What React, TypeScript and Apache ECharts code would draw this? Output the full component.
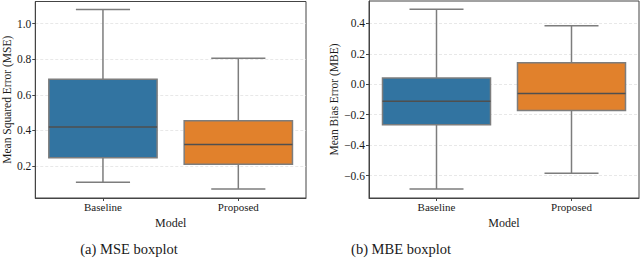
import React, { useEffect, useRef } from "react";
import * as echarts from "echarts";

const categories = ["Baseline", "Proposed"];
// [min, q1, median, q3, max]
const mseStats = [
  [0.11, 0.247, 0.42, 0.688, 1.079],
  [0.072, 0.211, 0.322, 0.455, 0.806],
];
const mbeStats = [
  [-0.688, -0.266, -0.112, 0.042, 0.492],
  [-0.584, -0.172, -0.061, 0.141, 0.385],
];
const mseTicks = [0.2, 0.4, 0.6, 0.8, 1.0];
const mbeTicks = [-0.6, -0.4, -0.2, 0.0, 0.2, 0.4];
const captions = ["(a) MSE boxplot", "(b) MBE boxplot"];

const boxColors = ["#3274a1", "#e1812c"];
const lineColor = "#7d7d7d";
const medianColor = "#4f4f4f";
const serif = "'Liberation Serif', 'Times New Roman', serif";

const fmt = (v: number) => {
  const s = (Math.round(v * 10) / 10).toFixed(1);
  return s.replace("-", "\u2212");
};

function renderBox(params: any, api: any) {
  const x = api.value(0);
  const mn = api.value(1);
  const q1 = api.value(2);
  const md = api.value(3);
  const q3 = api.value(4);
  const mx = api.value(5);
  const band = api.size([1, 0])[0];
  const boxW = band * 0.8;
  const capW = boxW * 0.5;
  const pMin = api.coord([x, mn]);
  const pQ1 = api.coord([x, q1]);
  const pMd = api.coord([x, md]);
  const pQ3 = api.coord([x, q3]);
  const pMax = api.coord([x, mx]);
  const cx = pMd[0];
  const lineStyle = { stroke: lineColor, lineWidth: 1.5 };
  return {
    type: "group",
    children: [
      { type: "line", shape: { x1: cx, y1: pQ3[1], x2: cx, y2: pMax[1] }, style: lineStyle },
      { type: "line", shape: { x1: cx, y1: pQ1[1], x2: cx, y2: pMin[1] }, style: lineStyle },
      { type: "line", shape: { x1: cx - capW / 2, y1: pMax[1], x2: cx + capW / 2, y2: pMax[1] }, style: lineStyle },
      { type: "line", shape: { x1: cx - capW / 2, y1: pMin[1], x2: cx + capW / 2, y2: pMin[1] }, style: lineStyle },
      {
        type: "rect",
        shape: { x: cx - boxW / 2, y: pQ3[1], width: boxW, height: pQ1[1] - pQ3[1] },
        style: { fill: boxColors[params.dataIndex], stroke: lineColor, lineWidth: 1.5 },
      },
      {
        type: "line",
        shape: { x1: cx - boxW / 2, y1: pMd[1], x2: cx + boxW / 2, y2: pMd[1] },
        style: { stroke: medianColor, lineWidth: 1.5 },
      },
    ],
  };
}

function makeY(gridIndex: number, name: string, min: number, max: number, ticks: number[], nameGap: number) {
  return {
    type: "value",
    gridIndex,
    min,
    max,
    name,
    nameLocation: "middle",
    nameGap,
    nameTextStyle: { fontFamily: serif, fontSize: 11.5, color: "#1a1a1a" },
    axisLine: { show: true, onZero: false, lineStyle: { color: "#444" } },
    axisTick: { show: true, length: 3, customValues: ticks, lineStyle: { color: "#444" } },
    axisLabel: {
      customValues: ticks,
      formatter: fmt,
      fontFamily: serif,
      fontSize: 11.5,
      color: "#1a1a1a",
      margin: 4,
    },
    splitLine: { show: true, lineStyle: { color: "#e2e2e2", type: [3, 2], width: 0.8 } },
  };
}

function makeX(gridIndex: number) {
  return {
    type: "category",
    gridIndex,
    data: categories,
    name: "Model",
    nameLocation: "middle",
    nameGap: 19,
    nameTextStyle: { fontFamily: serif, fontSize: 12, color: "#1a1a1a" },
    axisLine: { show: true, onZero: false, lineStyle: { color: "#444" } },
    axisTick: { show: true, alignWithLabel: true, length: 3, lineStyle: { color: "#444" } },
    axisLabel: { fontFamily: serif, fontSize: 11, color: "#1a1a1a", margin: 3 },
    splitLine: { show: false },
  };
}

export default function App() {
  const ref = useRef<HTMLDivElement>(null);
  useEffect(() => {
    if (!ref.current) return;
    const chart = echarts.init(ref.current, null, { renderer: "svg" });
    const mkData = (stats: number[][]) => stats.map((s, i) => [i, ...s]);
    chart.setOption({
      animation: false,
      title: [
        {
          text: captions[0],
          left: 124,
          top: 236,
          textAlign: "center",
          textStyle: { fontFamily: serif, fontSize: 14.5, fontWeight: "normal", color: "#1a1a1a" },
        },
        {
          text: captions[1],
          left: 396,
          top: 236,
          textAlign: "center",
          textStyle: { fontFamily: serif, fontSize: 14.5, fontWeight: "normal", color: "#1a1a1a" },
        },
      ],
      grid: [
        { left: 30, top: 1.5, width: 276, height: 196.5, show: true, borderColor: "#444", borderWidth: 1, backgroundColor: "transparent" },
        { left: 369, top: 1, width: 270, height: 197, show: true, borderColor: "#444", borderWidth: 1, backgroundColor: "transparent" },
      ],
      xAxis: [makeX(0), makeX(1)],
      yAxis: [
        makeY(0, "Mean Squared Error (MSE)", 0.021, 1.124, mseTicks, 22),
        makeY(1, "Mean Bias Error (MBE)", -0.747, 0.547, mbeTicks, 29),
      ],
      series: [
        {
          type: "custom",
          xAxisIndex: 0,
          yAxisIndex: 0,
          renderItem: renderBox,
          encode: { x: 0, y: [1, 2, 3, 4, 5] },
          data: mkData(mseStats),
        },
        {
          type: "custom",
          xAxisIndex: 1,
          yAxisIndex: 1,
          renderItem: renderBox,
          encode: { x: 0, y: [1, 2, 3, 4, 5] },
          data: mkData(mbeStats),
        },
      ],
    });
    return () => chart.dispose();
  }, []);
  return (
    <div
      ref={ref}
      style={{ position: "fixed", left: 0, top: 0, width: 640, height: 264, background: "#fff" }}
    />
  );
}
